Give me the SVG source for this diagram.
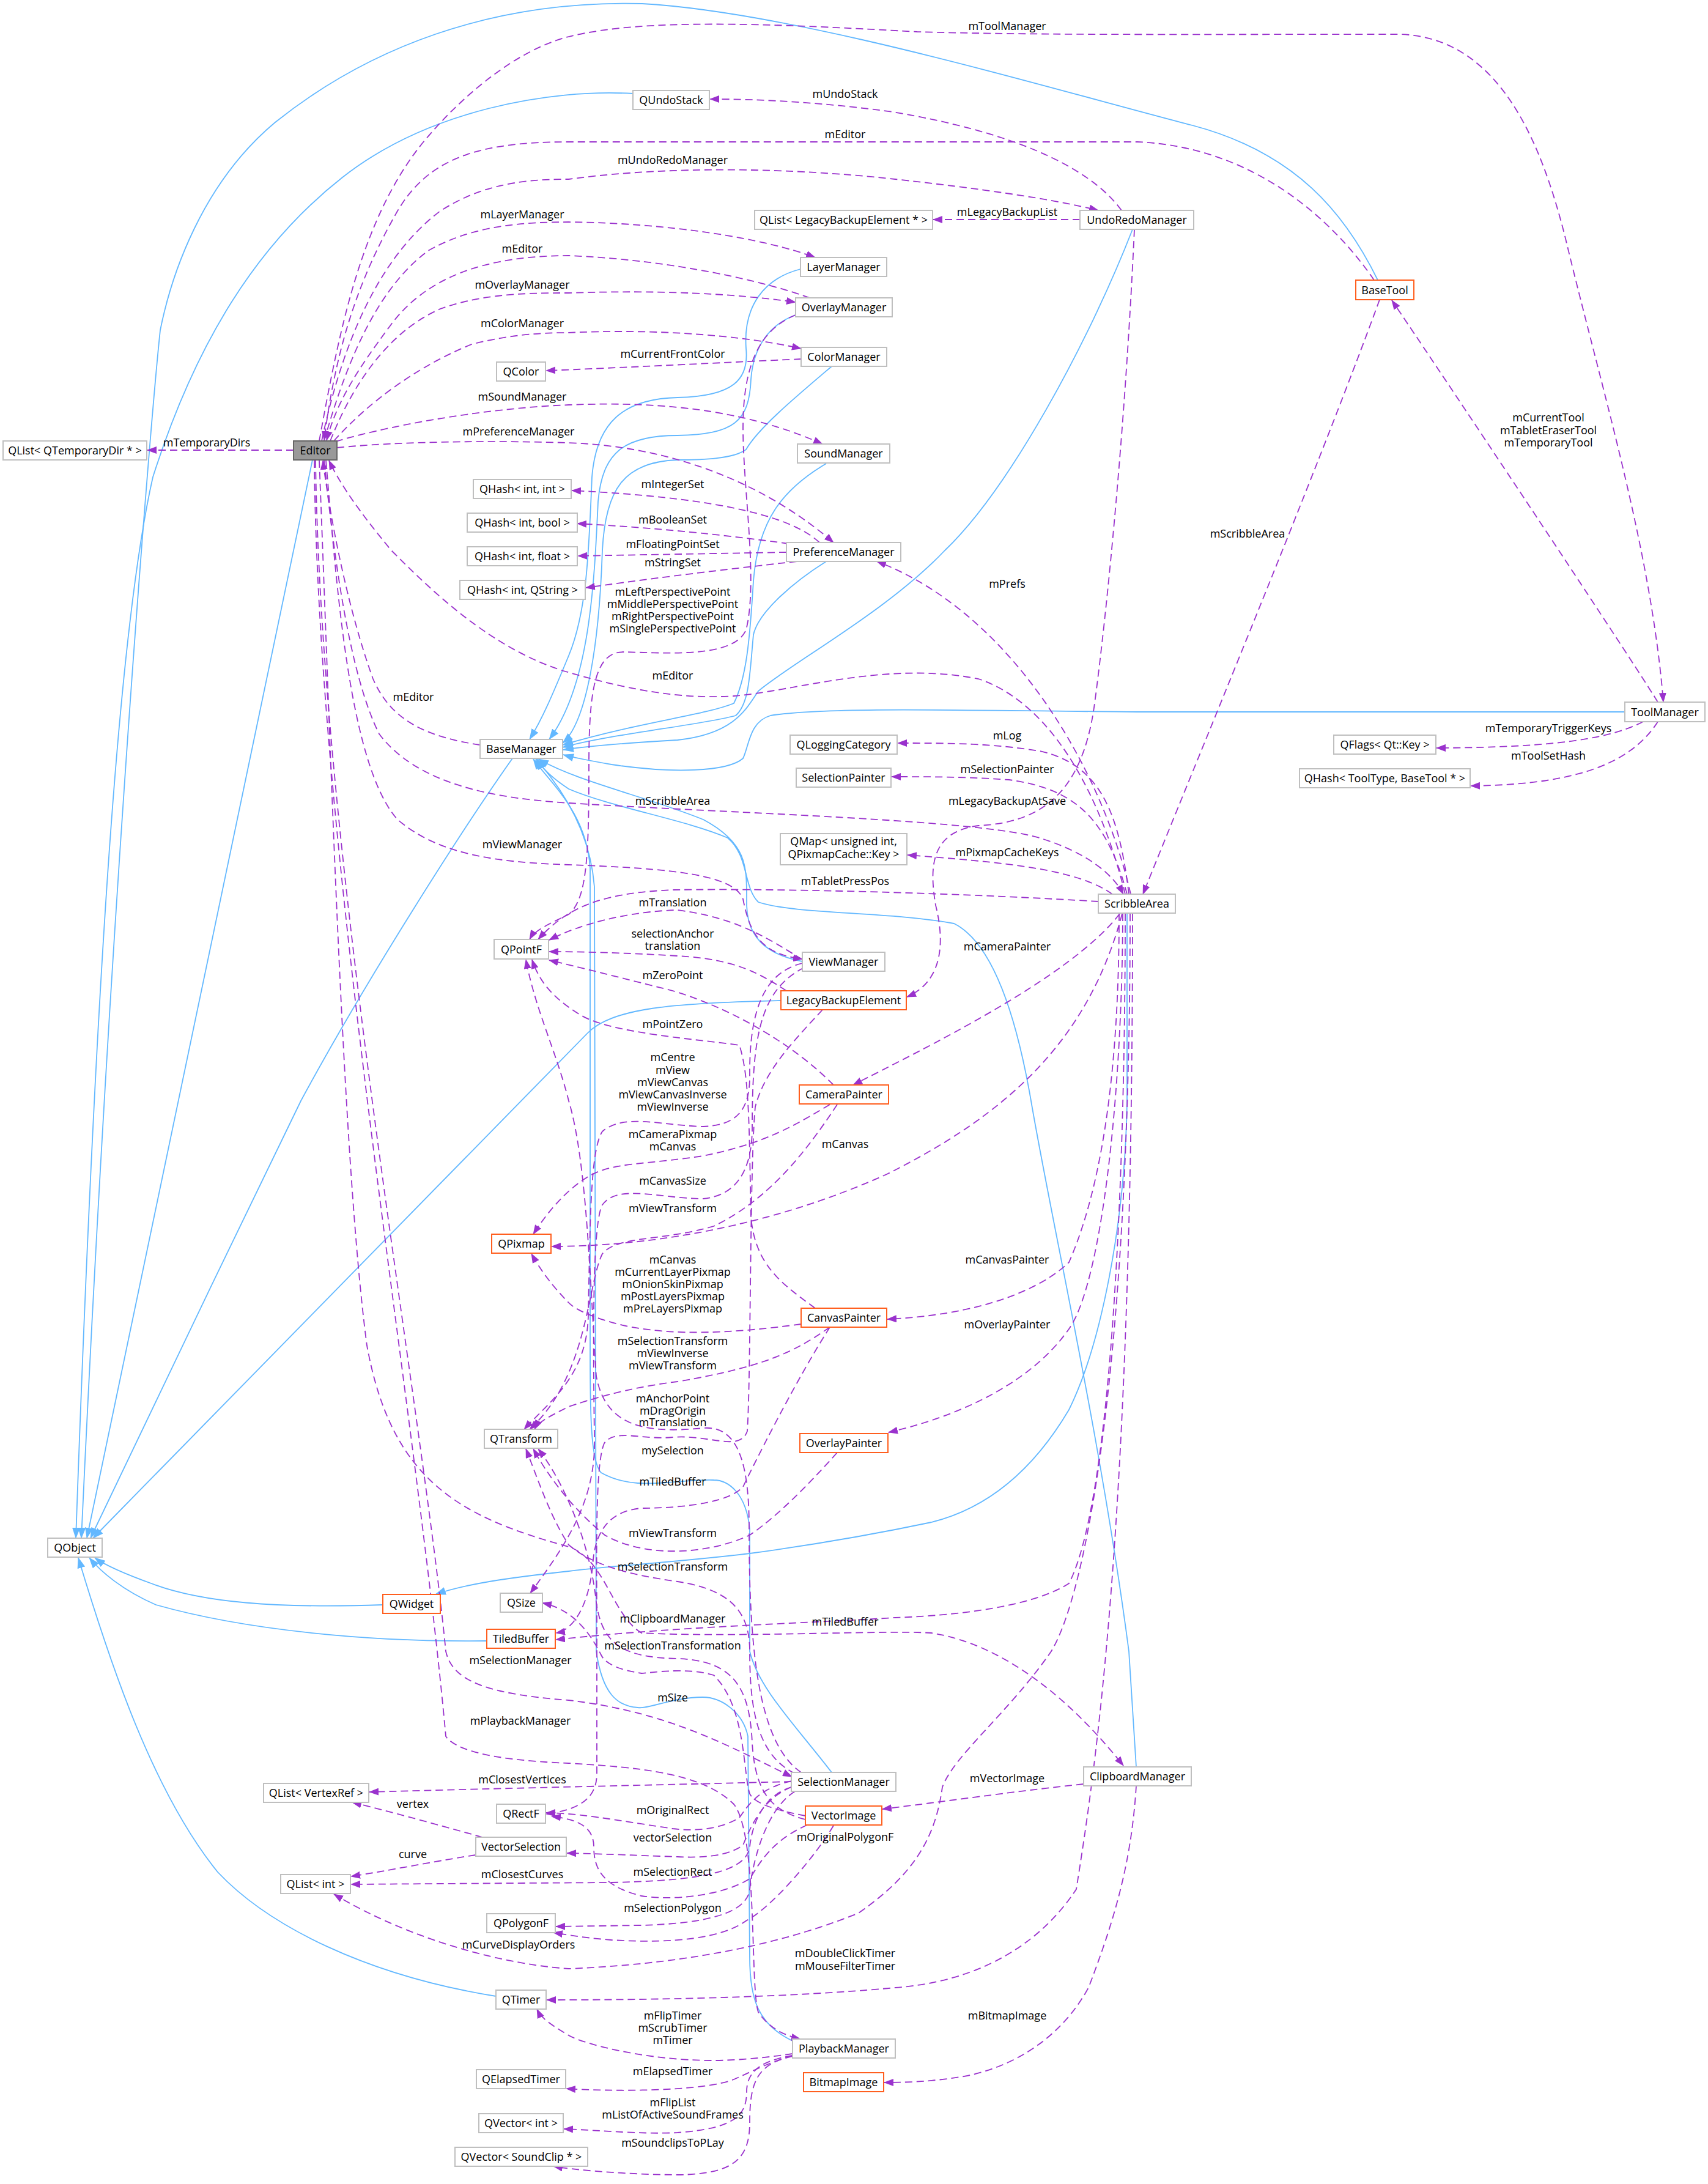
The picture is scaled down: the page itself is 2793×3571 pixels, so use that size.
<svg xmlns="http://www.w3.org/2000/svg" width="2793" height="3571" viewBox="0 0 2793 3571">
<defs>
<marker id="ap" markerWidth="16" markerHeight="12" refX="15" refY="6" orient="auto" markerUnits="userSpaceOnUse"><path d="M0,0 L16,6 L0,12 z" fill="#9a32cd"/></marker>
<marker id="ab" markerWidth="18" markerHeight="13" refX="17" refY="6.5" orient="auto" markerUnits="userSpaceOnUse"><path d="M0,0 L18,6.5 L0,13 z" fill="#63b8ff"/></marker>
<style>
.n rect{fill:#fff;stroke:#bfbfbf;stroke-width:2}
.n.o rect{stroke:#ff5f1f}
.n.g rect{fill:#999;stroke:#666}
text{font-family:"Open Sans","Noto Sans",sans-serif;font-size:18px;fill:#000;text-anchor:middle}
.d{fill:none;stroke:#9a32cd;stroke-width:1.8;stroke-dasharray:12,7;marker-end:url(#ap)}
.b{fill:none;stroke:#63b8ff;stroke-width:1.8;marker-end:url(#ab)}
</style>
</defs>
<rect width="2793" height="3571" fill="#fff"/>
<g id="connectors">
<path class="b" d="M1035,153 C900,145 700,180 560,290 C420,400 320,560 250,780 C200,1000 160,1500 124,2515"/>
<path class="b" d="M2253,458 C2200,350 2120,250 1950,205 C1700,140 1300,20 1050,6 C800,0 600,80 450,200 C330,300 280,450 262,540 C245,700 180,1500 133,2515"/>
<path class="b" d="M511,752 L142,2515"/>
<path class="b" d="M838,1240 C760,1350 600,1600 492,1800 C380,2030 250,2300 148,2515"/>
<path class="b" d="M1277,1636 C1100,1640 1000,1648 960,1690 L152,2515"/>
<path class="b" d="M626,2624 C450,2630 330,2620 250,2590 C200,2572 170,2558 155,2547"/>
<path class="b" d="M796,2683 C600,2685 400,2665 255,2624 C200,2600 165,2570 146,2547"/>
<path class="b" d="M811,3264 C600,3230 440,3150 356,3061 C250,2930 180,2720 128,2547"/>
<path class="b" d="M1843,1494 L1843,1800 C1840,2000 1800,2200 1748,2305 C1680,2420 1600,2470 1523,2489 C1400,2515 1300,2530 1226,2540 C1100,2555 1000,2560 930,2569 C830,2580 760,2590 712,2607"/>
<path class="b" d="M1309,440 C1250,455 1215,500 1220,570 C1225,620 1200,648 1108,650 C1020,652 975,690 968,780 C963,900 960,1000 930,1072 C910,1120 890,1170 866,1209"/>
<path class="b" d="M1301,515 C1260,530 1232,565 1228,620 C1225,690 1200,710 1108,712 C1020,712 985,740 978,820 C972,950 965,1120 898,1209"/>
<path class="b" d="M1360,599 C1300,650 1240,700 1220,735 C1200,750 1150,752 1108,752 C1020,755 990,800 985,900 C980,1050 960,1180 920,1215"/>
<path class="b" d="M1351,758 C1280,800 1240,850 1232,950 C1226,1050 1220,1110 1200,1150 C1150,1170 1050,1180 920,1218"/>
<path class="b" d="M1351,918 C1300,950 1240,1000 1232,1038 C1226,1100 1226,1150 1203,1170 C1150,1185 1000,1200 920,1222"/>
<path class="b" d="M1852,375 C1780,560 1650,800 1545,900 C1450,1000 1300,1080 1240,1130 C1220,1160 1200,1200 1108,1210 C1020,1215 960,1220 921,1226"/>
<path class="b" d="M2657,1164 L1860,1164 C1600,1162 1350,1155 1260,1170 C1225,1180 1225,1220 1215,1240 C1190,1262 1100,1265 1000,1250 C960,1243 935,1238 921,1234"/>
<path class="b" d="M1312,1572 C1250,1560 1222,1530 1221,1480 C1221,1420 1225,1380 1150,1340 C1050,1300 950,1280 880,1241"/>
<path class="b" d="M1360,2898 C1300,2820 1240,2760 1226,2700 L1226,2500 C1220,2440 1190,2420 1167,2420 C1100,2418 1040,2440 983,2408 C965,2390 965,2300 965,2200 L965,1420 C960,1330 900,1280 872,1241"/>
<path class="b" d="M1296,3337 C1240,3310 1226,3270 1226,3200 L1223,2839 C1215,2800 1180,2775 1149,2775 C1100,2775 1060,2795 1043,2792 C1010,2790 985,2770 975,2700 L972,1450 C965,1360 920,1290 876,1241"/>
<path class="b" d="M1858,2889 L1846,2700 C1800,2350 1720,2000 1686,1800 C1660,1650 1620,1540 1560,1510 C1450,1490 1300,1495 1240,1475 C1215,1450 1225,1400 1190,1370 C1120,1340 1000,1320 930,1290 C900,1270 885,1255 878,1241"/>

<path class="d" d="M480,736 L241,736"/>
<path class="d" d="M522,721 C555,540 590,360 690,235 C760,150 850,80 930,60 C1050,30 1250,38 1500,52 C1700,58 2000,56 2288,56 C2450,60 2520,230 2560,390 C2620,640 2700,900 2720,1148"/>
<path class="d" d="M1834,344 C1780,270 1650,215 1460,183 C1350,168 1250,162 1161,162"/>
<path class="d" d="M2247,458 C2180,360 2050,240 1860,232 L930,232 C780,232 700,260 650,345 C590,450 550,560 530,720"/>
<path class="d" d="M526,721 C560,560 620,420 720,345 C790,300 860,293 930,293 C1100,270 1300,275 1464,293 C1600,308 1720,325 1796,344"/>
<path class="d" d="M1766,359 L1526,359"/>
<path class="d" d="M530,721 C570,580 620,470 700,410 C770,370 850,363 930,363 C1100,365 1250,390 1333,421"/>
<path class="d" d="M1324,487 C1250,460 1100,425 930,418 C800,418 700,450 640,530 C580,610 550,660 534,720"/>
<path class="d" d="M540,721 C580,620 640,540 720,505 C790,480 860,479 930,479 C1080,474 1200,480 1301,494"/>
<path class="d" d="M546,721 C600,660 680,600 771,563 C830,548 880,544 930,544 C1050,538 1200,545 1310,570"/>
<path class="d" d="M1310,587 C1200,592 1000,602 893,606"/>
<path class="d" d="M549,722 C620,700 780,668 930,662 C1100,655 1230,675 1345,726"/>
<path class="d" d="M551,732 C650,722 800,720 930,724 C1100,730 1250,790 1363,887"/>
<path class="d" d="M1340,887 C1300,850 1200,815 935,802"/>
<path class="d" d="M1290,889 C1150,870 1050,862 944,856"/>
<path class="d" d="M1286,903 L945,909"/>
<path class="d" d="M1303,918 C1150,935 1050,948 958,961"/>
<path class="d" d="M1301,515 C1240,540 1215,600 1215,700 C1215,800 1240,950 1220,1030 C1200,1075 1100,1068 1020,1066 C975,1066 963,1120 963,1250 C963,1400 960,1470 930,1495 C900,1510 875,1520 866,1536"/>
<path class="d" d="M1840,1462 C1800,1300 1720,1150 1600,1110 C1450,1080 1300,1130 1200,1138 C1100,1145 1000,1120 925,1098 C800,1060 700,960 640,900 C590,840 555,790 538,753"/>
<path class="d" d="M1849,1462 C1800,1250 1650,1000 1434,918"/>
<path class="d" d="M2256,490 C2150,780 1950,1260 1869,1462"/>
<path class="d" d="M2711,1148 C2650,1050 2350,600 2276,491"/>
<path class="d" d="M2687,1180 C2620,1215 2500,1222 2349,1223"/>
<path class="d" d="M2711,1180 C2660,1260 2550,1283 2405,1285"/>
<path class="d" d="M785,1218 C700,1205 640,1180 610,1110 C570,1000 540,850 528,753"/>
<path class="d" d="M530,753 C545,900 570,1100 620,1200 C680,1280 800,1305 930,1313 C1200,1330 1600,1340 1700,1370 C1780,1395 1820,1430 1837,1462"/>
<path class="d" d="M533,753 C550,950 570,1250 650,1340 C720,1400 820,1410 930,1414 C1100,1420 1200,1430 1215,1470 C1225,1520 1240,1560 1312,1568"/>
<path class="d" d="M1846,1462 C1830,1330 1800,1250 1700,1228 C1620,1215 1550,1215 1468,1215"/>
<path class="d" d="M1843,1462 C1810,1340 1760,1290 1650,1275 C1580,1270 1520,1270 1458,1270"/>
<path class="d" d="M1855,375 C1840,700 1810,1000 1790,1150 C1770,1300 1700,1345 1600,1350 C1520,1360 1520,1420 1530,1480 C1550,1560 1530,1610 1483,1630"/>
<path class="d" d="M1819,1462 C1760,1420 1640,1410 1484,1398"/>
<path class="d" d="M1796,1474 C1600,1462 1300,1452 1100,1455 C990,1460 930,1480 880,1536"/>
<path class="d" d="M1312,1569 C1250,1530 1200,1500 1108,1488 C1030,1490 950,1510 898,1537"/>
<path class="d" d="M1286,1620 C1240,1590 1200,1568 1108,1563 C1030,1558 950,1556 898,1556"/>
<path class="d" d="M1363,1774 C1300,1710 1200,1650 1100,1620 C1020,1600 950,1582 898,1570"/>
<path class="d" d="M1333,2139 C1280,2100 1235,2070 1228,1990 C1225,1850 1226,1760 1209,1709 C1150,1700 1000,1690 950,1660 C900,1630 880,1600 870,1569"/>
<path class="d" d="M1310,2898 C1240,2850 1225,2700 1225,2500 C1225,2400 1210,2330 1150,2335 C1050,2345 990,2330 975,2250 C965,2100 960,1900 930,1800 C910,1720 875,1650 860,1569"/>
<path class="d" d="M1312,1575 C1250,1590 1225,1650 1226,1760 C1226,1820 1200,1840 1150,1842 C1080,1840 1020,1820 985,1850 C965,1880 965,2000 962,2150 C960,2250 900,2290 857,2337"/>
<path class="d" d="M1315,1582 C1240,1620 1230,1700 1230,1850 C1228,1920 1200,1955 1150,1960 C1080,1960 1010,1935 985,1970 C968,2000 970,2200 972,2350 C975,2450 930,2520 867,2605"/>
<path class="d" d="M1357,1806 C1300,1840 1250,1870 1150,1890 C1050,1905 1000,1900 960,1925 C920,1950 890,1990 872,2018"/>
<path class="d" d="M1835,1494 C1780,1700 1650,1820 1450,1920 C1250,2010 1050,2038 902,2038"/>
<path class="d" d="M1369,1806 C1320,1880 1260,1960 1167,2005 C1080,2030 1010,2020 985,2050 C960,2100 962,2250 866,2337"/>
<path class="d" d="M1310,2165 C1200,2180 1100,2185 1019,2167 C970,2155 940,2141 930,2130 C900,2100 880,2070 869,2050"/>
<path class="d" d="M1357,2170 C1300,2210 1250,2235 1108,2259 C1020,2270 960,2290 930,2300 C900,2315 880,2325 874,2337"/>
<path class="d" d="M1830,1494 C1830,1650 1820,1900 1748,2064 C1700,2110 1600,2150 1451,2157"/>
<path class="d" d="M1836,1494 C1835,1800 1800,2100 1748,2173 C1680,2270 1550,2320 1453,2342"/>
<path class="d" d="M1831,1494 C1750,1600 1500,1720 1395,1774"/>
<path class="d" d="M1357,2170 C1300,2260 1240,2380 1215,2431 C1190,2460 1100,2466 1049,2466 C1000,2470 975,2500 970,2550 C965,2620 940,2665 909,2670"/>
<path class="d" d="M1345,1651 C1300,1700 1250,1750 1235,1810 C1226,1900 1228,2250 1222,2340 C1210,2375 1160,2345 1100,2350 C1050,2355 1005,2335 988,2360 C975,2390 975,2500 976,2650 L976,2900 C976,2945 940,2960 893,2966"/>
<path class="d" d="M1369,2375 C1320,2430 1270,2480 1226,2510 C1150,2545 1050,2545 989,2510 C940,2470 900,2420 872,2369"/>
<path class="d" d="M1300,2900 C1240,2870 1226,2800 1226,2700 C1226,2640 1200,2600 1108,2586 C1030,2575 970,2560 930,2526 C900,2480 880,2420 860,2369"/>
<path class="d" d="M522,753 C540,1200 560,1900 600,2200 C640,2420 750,2480 930,2529 C990,2550 1000,2640 1049,2670 C1200,2678 1450,2665 1523,2670 C1650,2690 1760,2790 1837,2887"/>
<path class="d" d="M1317,2975 C1260,2960 1235,2930 1230,2850 C1226,2760 1200,2715 1108,2712 C1020,2710 985,2690 975,2620 C965,2520 920,2420 880,2369"/>
<path class="d" d="M1840,1494 C1840,1900 1820,2450 1748,2589 C1700,2620 1600,2640 1464,2645 C1300,2655 1100,2660 909,2681"/>
<path class="d" d="M516,753 C525,1400 690,2300 729,2700 C740,2750 800,2770 930,2780 C1100,2800 1200,2860 1295,2905"/>
<path class="d" d="M514,753 C520,1400 680,2300 729,2839 C750,2870 850,2880 930,2883 C1050,2890 1150,2900 1200,2950 C1240,3000 1226,3250 1240,3290 C1260,3320 1290,3330 1309,3334"/>
<path class="d" d="M1294,2913 C1100,2918 900,2922 604,2930"/>
<path class="d" d="M789,3004 C720,2985 650,2965 576,2947"/>
<path class="d" d="M778,3033 C700,3045 640,3058 574,3068"/>
<path class="d" d="M1294,2922 C1250,2935 1230,2980 1226,3020 C1220,3060 1150,3075 1000,3078 L574,3081"/>
<path class="d" d="M1294,2912 C1240,2925 1225,2950 1209,2972 C1180,2990 1140,2995 1100,2990 C1000,2975 950,2965 893,2964"/>
<path class="d" d="M1294,2922 C1250,2940 1230,2980 1215,3017 C1190,3035 1150,3038 1108,3036 C1050,3034 980,3031 927,3030"/>
<path class="d" d="M1320,2984 C1260,3010 1240,3050 1226,3072 C1180,3100 1100,3108 1049,3100 C990,3085 971,3060 971,3020 C971,2990 950,2975 902,2970"/>
<path class="d" d="M1300,2929 C1250,2960 1230,3050 1226,3090 C1220,3130 1150,3145 1050,3148 L909,3150"/>
<path class="d" d="M1363,2985 C1330,3040 1260,3120 1221,3140 C1180,3170 1100,3178 1000,3172 C950,3168 925,3163 905,3160"/>
<path class="d" d="M1848,1494 C1848,2200 1780,2600 1719,2700 C1650,2800 1560,2870 1541,2922 C1530,3000 1500,3061 1404,3128 C1300,3170 1150,3210 930,3219 C800,3210 650,3160 546,3097"/>
<path class="d" d="M1852,1494 C1852,2500 1790,2900 1760,3089 C1700,3180 1600,3240 1464,3250 C1300,3265 1100,3270 894,3270"/>
<path class="d" d="M1772,2917 C1650,2930 1550,2945 1443,2958"/>
<path class="d" d="M1858,2920 C1850,3050 1820,3145 1780,3250 C1731,3339 1650,3380 1582,3394 C1530,3403 1490,3405 1446,3405"/>
<path class="d" d="M1296,3358 C1250,3365 1200,3369 1167,3369 C1050,3369 950,3340 930,3328 C900,3310 885,3300 878,3285"/>
<path class="d" d="M1296,3361 C1250,3375 1226,3389 1200,3400 C1150,3420 1000,3420 926,3415"/>
<path class="d" d="M1296,3361 C1240,3370 1221,3390 1221,3420 C1221,3460 1200,3480 1108,3487 C1050,3490 980,3483 922,3481"/>
<path class="d" d="M1296,3362 C1240,3375 1226,3400 1226,3470 C1226,3530 1200,3555 1108,3556 C1050,3556 950,3550 905,3542"/>
<path class="d" d="M1317,2969 C1270,2960 1235,2950 1226,2933 C1215,2900 1220,2790 1167,2739 C1120,2725 1060,2736 1049,2736 C1010,2730 990,2720 983,2706 C960,2660 930,2630 887,2621"/>
</g>
<g id="edge-labels">
<text x="1647" y="49">mToolManager</text>
<text x="1382" y="160">mUndoStack</text>
<text x="1382" y="226">mEditor</text>
<text x="1100" y="268">mUndoRedoManager</text>
<text x="1647" y="353">mLegacyBackupList</text>
<text x="854" y="357">mLayerManager</text>
<text x="854" y="413">mEditor</text>
<text x="854" y="472">mOverlayManager</text>
<text x="854" y="535">mColorManager</text>
<text x="1100" y="585">mCurrentFrontColor</text>
<text x="854" y="655">mSoundManager</text>
<text x="848" y="712">mPreferenceManager</text>
<text x="338" y="730">mTemporaryDirs</text>
<text x="1100" y="798">mIntegerSet</text>
<text x="1100" y="856">mBooleanSet</text>
<text x="1100" y="896">mFloatingPointSet</text>
<text x="1100" y="926">mStringSet</text>
<text x="1100" y="974">mLeftPerspectivePoint</text>
<text x="1100" y="994">mMiddlePerspectivePoint</text>
<text x="1100" y="1014">mRightPerspectivePoint</text>
<text x="1100" y="1034">mSinglePerspectivePoint</text>
<text x="1647" y="961">mPrefs</text>
<text x="2532" y="689">mCurrentTool</text>
<text x="2532" y="710">mTabletEraserTool</text>
<text x="2532" y="730">mTemporaryTool</text>
<text x="2040" y="879">mScribbleArea</text>
<text x="1100" y="1111">mEditor</text>
<text x="676" y="1146">mEditor</text>
<text x="2532" y="1197">mTemporaryTriggerKeys</text>
<text x="2532" y="1242">mToolSetHash</text>
<text x="1647" y="1209">mLog</text>
<text x="1647" y="1264">mSelectionPainter</text>
<text x="1100" y="1316">mScribbleArea</text>
<text x="1647" y="1316">mLegacyBackupAtSave</text>
<text x="854" y="1387">mViewManager</text>
<text x="1647" y="1400">mPixmapCacheKeys</text>
<text x="1382" y="1447">mTabletPressPos</text>
<text x="1100" y="1482">mTranslation</text>
<text x="1100" y="1533">selectionAnchor</text>
<text x="1100" y="1553">translation</text>
<text x="1100" y="1601">mZeroPoint</text>
<text x="1647" y="1554">mCameraPainter</text>
<text x="1100" y="1681">mPointZero</text>
<text x="1100" y="1735">mCentre</text>
<text x="1100" y="1756">mView</text>
<text x="1100" y="1776">mViewCanvas</text>
<text x="1100" y="1796">mViewCanvasInverse</text>
<text x="1100" y="1816">mViewInverse</text>
<text x="1100" y="1861">mCameraPixmap</text>
<text x="1100" y="1881">mCanvas</text>
<text x="1382" y="1877">mCanvas</text>
<text x="1100" y="1937">mCanvasSize</text>
<text x="1100" y="1982">mViewTransform</text>
<text x="1100" y="2066">mCanvas</text>
<text x="1100" y="2086">mCurrentLayerPixmap</text>
<text x="1100" y="2106">mOnionSkinPixmap</text>
<text x="1100" y="2126">mPostLayersPixmap</text>
<text x="1100" y="2146">mPreLayersPixmap</text>
<text x="1647" y="2066">mCanvasPainter</text>
<text x="1647" y="2172">mOverlayPainter</text>
<text x="1100" y="2199">mSelectionTransform</text>
<text x="1100" y="2219">mViewInverse</text>
<text x="1100" y="2239">mViewTransform</text>
<text x="1100" y="2293">mAnchorPoint</text>
<text x="1100" y="2313">mDragOrigin</text>
<text x="1100" y="2332">mTranslation</text>
<text x="1100" y="2378">mySelection</text>
<text x="1100" y="2429">mTiledBuffer</text>
<text x="1100" y="2513">mViewTransform</text>
<text x="1100" y="2568">mSelectionTransform</text>
<text x="1100" y="2653">mClipboardManager</text>
<text x="1382" y="2658">mTiledBuffer</text>
<text x="1100" y="2697">mSelectionTransformation</text>
<text x="851" y="2721">mSelectionManager</text>
<text x="1100" y="2782">mSize</text>
<text x="851" y="2820">mPlaybackManager</text>
<text x="1647" y="2914">mVectorImage</text>
<text x="854" y="2916">mClosestVertices</text>
<text x="675" y="2956">vertex</text>
<text x="1100" y="2966">mOriginalRect</text>
<text x="1382" y="3010">mOriginalPolygonF</text>
<text x="1100" y="3011">vectorSelection</text>
<text x="675" y="3038">curve</text>
<text x="1100" y="3067">mSelectionRect</text>
<text x="854" y="3071">mClosestCurves</text>
<text x="1100" y="3126">mSelectionPolygon</text>
<text x="848" y="3186">mCurveDisplayOrders</text>
<text x="1382" y="3200">mDoubleClickTimer</text>
<text x="1382" y="3221">mMouseFilterTimer</text>
<text x="1100" y="3302">mFlipTimer</text>
<text x="1100" y="3322">mScrubTimer</text>
<text x="1100" y="3342">mTimer</text>
<text x="1647" y="3302">mBitmapImage</text>
<text x="1100" y="3393">mElapsedTimer</text>
<text x="1100" y="3444">mFlipList</text>
<text x="1100" y="3464">mListOfActiveSoundFrames</text>
<text x="1100" y="3510">mSoundclipsToPLay</text>
</g>
<g id="node-QListQTemporaryDir" class="n"><rect x="5" y="721" width="235" height="31"/><text x="122.5" y="743">QList&lt; QTemporaryDir * &gt;</text></g>
<g id="node-Editor" class="n g"><rect x="480" y="721" width="71" height="31"/><text x="515.5" y="743">Editor</text></g>
<g id="node-QUndoStack" class="n"><rect x="1035" y="148" width="125" height="31"/><text x="1097.5" y="170">QUndoStack</text></g>
<g id="node-QListLegacyBackupElement" class="n"><rect x="1234" y="344" width="291" height="31"/><text x="1379.5" y="366">QList&lt; LegacyBackupElement * &gt;</text></g>
<g id="node-UndoRedoManager" class="n"><rect x="1766" y="344" width="186" height="31"/><text x="1859" y="366">UndoRedoManager</text></g>
<g id="node-LayerManager" class="n"><rect x="1309" y="421" width="141" height="31"/><text x="1379.5" y="443">LayerManager</text></g>
<g id="node-OverlayManager" class="n"><rect x="1301" y="487" width="158" height="31"/><text x="1380" y="509">OverlayManager</text></g>
<g id="node-ColorManager" class="n"><rect x="1310" y="568" width="140" height="31"/><text x="1380" y="590">ColorManager</text></g>
<g id="node-QColor" class="n"><rect x="812" y="592" width="80" height="31"/><text x="852" y="614">QColor</text></g>
<g id="node-SoundManager" class="n"><rect x="1304" y="726" width="151" height="31"/><text x="1379.5" y="748">SoundManager</text></g>
<g id="node-QHashIntInt" class="n"><rect x="774" y="784" width="160" height="31"/><text x="854" y="806">QHash&lt; int, int &gt;</text></g>
<g id="node-QHashIntBool" class="n"><rect x="764" y="839" width="180" height="31"/><text x="854" y="861">QHash&lt; int, bool &gt;</text></g>
<g id="node-PreferenceManager" class="n"><rect x="1286" y="887" width="187" height="31"/><text x="1379.5" y="909">PreferenceManager</text></g>
<g id="node-QHashIntFloat" class="n"><rect x="764" y="894" width="180" height="31"/><text x="854" y="916">QHash&lt; int, float &gt;</text></g>
<g id="node-QHashIntQString" class="n"><rect x="752" y="949" width="205" height="31"/><text x="854.5" y="971">QHash&lt; int, QString &gt;</text></g>
<g id="node-BaseTool" class="n o"><rect x="2217" y="458" width="95" height="32"/><text x="2264.5" y="481">BaseTool</text></g>
<g id="node-ToolManager" class="n"><rect x="2657" y="1148" width="131" height="32"/><text x="2722.5" y="1171">ToolManager</text></g>
<g id="node-QFlags" class="n"><rect x="2181" y="1202" width="167" height="31"/><text x="2264.5" y="1224">QFlags&lt; Qt::Key &gt;</text></g>
<g id="node-QHashToolType" class="n"><rect x="2125" y="1257" width="279" height="31"/><text x="2264.5" y="1279">QHash&lt; ToolType, BaseTool * &gt;</text></g>
<g id="node-BaseManager" class="n"><rect x="785" y="1209" width="135" height="31"/><text x="852.5" y="1231">BaseManager</text></g>
<g id="node-QLoggingCategory" class="n"><rect x="1292" y="1202" width="175" height="31"/><text x="1379.5" y="1224">QLoggingCategory</text></g>
<g id="node-SelectionPainter" class="n"><rect x="1302" y="1256" width="155" height="31"/><text x="1379.5" y="1278">SelectionPainter</text></g>
<g id="node-QMap" class="n"><rect x="1276" y="1363" width="207" height="51"/><text x="1379.5" y="1382">QMap&lt; unsigned int,</text><text x="1379.5" y="1403">QPixmapCache::Key &gt;</text></g>
<g id="node-ScribbleArea" class="n"><rect x="1796" y="1462" width="126" height="31"/><text x="1859" y="1484">ScribbleArea</text></g>
<g id="node-QPointF" class="n"><rect x="808" y="1536" width="89" height="32"/><text x="852.5" y="1559">QPointF</text></g>
<g id="node-ViewManager" class="n"><rect x="1312" y="1557" width="135" height="31"/><text x="1379.5" y="1579">ViewManager</text></g>
<g id="node-LegacyBackupElement" class="n o"><rect x="1277" y="1620" width="205" height="31"/><text x="1379.5" y="1642">LegacyBackupElement</text></g>
<g id="node-CameraPainter" class="n o"><rect x="1307" y="1774" width="146" height="31"/><text x="1380" y="1796">CameraPainter</text></g>
<g id="node-QPixmap" class="n o"><rect x="804" y="2018" width="97" height="31"/><text x="852.5" y="2040">QPixmap</text></g>
<g id="node-CanvasPainter" class="n o"><rect x="1310" y="2139" width="140" height="31"/><text x="1380" y="2161">CanvasPainter</text></g>
<g id="node-QTransform" class="n"><rect x="792" y="2337" width="120" height="31"/><text x="852" y="2359">QTransform</text></g>
<g id="node-OverlayPainter" class="n o"><rect x="1308" y="2344" width="144" height="31"/><text x="1380" y="2366">OverlayPainter</text></g>
<g id="node-QObject" class="n"><rect x="78" y="2515" width="89" height="31"/><text x="122.5" y="2537">QObject</text></g>
<g id="node-QWidget" class="n o"><rect x="626" y="2607" width="94" height="31"/><text x="673" y="2629">QWidget</text></g>
<g id="node-QSize" class="n"><rect x="818" y="2605" width="69" height="31"/><text x="852.5" y="2627">QSize</text></g>
<g id="node-TiledBuffer" class="n o"><rect x="796" y="2664" width="112" height="31"/><text x="852" y="2686">TiledBuffer</text></g>
<g id="node-ClipboardManager" class="n"><rect x="1772" y="2889" width="176" height="31"/><text x="1860" y="2911">ClipboardManager</text></g>
<g id="node-SelectionManager" class="n"><rect x="1294" y="2898" width="171" height="31"/><text x="1379.5" y="2920">SelectionManager</text></g>
<g id="node-QListVertexRef" class="n"><rect x="431" y="2916" width="172" height="31"/><text x="517" y="2938">QList&lt; VertexRef &gt;</text></g>
<g id="node-QRectF" class="n"><rect x="812" y="2950" width="80" height="31"/><text x="852" y="2972">QRectF</text></g>
<g id="node-VectorImage" class="n o"><rect x="1317" y="2953" width="125" height="31"/><text x="1379.5" y="2975">VectorImage</text></g>
<g id="node-VectorSelection" class="n"><rect x="778" y="3004" width="148" height="31"/><text x="852" y="3026">VectorSelection</text></g>
<g id="node-QListInt" class="n"><rect x="459" y="3065" width="114" height="31"/><text x="516" y="3087">QList&lt; int &gt;</text></g>
<g id="node-QPolygonF" class="n"><rect x="796" y="3129" width="112" height="31"/><text x="852" y="3151">QPolygonF</text></g>
<g id="node-QTimer" class="n"><rect x="811" y="3254" width="82" height="31"/><text x="852" y="3276">QTimer</text></g>
<g id="node-PlaybackManager" class="n"><rect x="1296" y="3334" width="168" height="31"/><text x="1380" y="3356">PlaybackManager</text></g>
<g id="node-QElapsedTimer" class="n"><rect x="779" y="3384" width="146" height="31"/><text x="852" y="3406">QElapsedTimer</text></g>
<g id="node-BitmapImage" class="n o"><rect x="1314" y="3389" width="131" height="31"/><text x="1379.5" y="3411">BitmapImage</text></g>
<g id="node-QVectorInt" class="n"><rect x="783" y="3456" width="138" height="31"/><text x="852" y="3478">QVector&lt; int &gt;</text></g>
<g id="node-QVectorSoundClip" class="n"><rect x="744" y="3511" width="217" height="31"/><text x="852.5" y="3533">QVector&lt; SoundClip * &gt;</text></g>
</svg>
